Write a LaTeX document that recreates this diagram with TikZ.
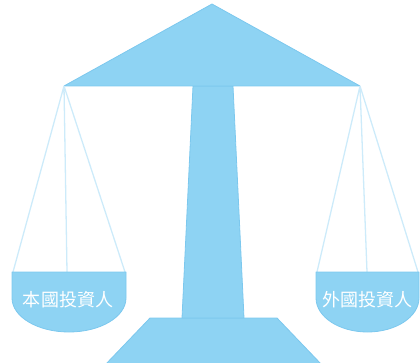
\documentclass[tikz,border=0pt]{standalone}
\usepackage{fontspec}
\newfontfamily\cjk{Noto Sans CJK TC}
\definecolor{scalefill}{HTML}{8ED3F3}
\definecolor{scaleedge}{HTML}{7CC8EE}
\definecolor{stringcol}{HTML}{CDEBFA}
\begin{document}
\begin{tikzpicture}[x=1pt,y=-1pt,
  part/.style={fill=scalefill,draw=scaleedge,line width=0.8pt,line join=round},
  string/.style={draw=stringcol,line width=1.3pt},
  panlabel/.style={text=white,font=\cjk\fontsize{18}{18}\selectfont,inner sep=0pt}]
\useasboundingbox (0,0) rectangle (420,363);
% base and column
\draw[part] (150,318) -- (277,318) -- (322,365) -- (105,365) -- cycle;
\draw[part] (193,86) -- (233,86) -- (244,318) -- (182,318) -- cycle;
% beam
\coordinate (lp) at (64,86);
\coordinate (rp) at (360,86);
\draw[part] (212,4) -- (rp) -- (lp) -- cycle;
% left pan strings
\coordinate (l1) at (13,272);
\coordinate (l2) at (67,272);
\coordinate (l3) at (125,272);
\draw[string] (lp) -- (l1) (lp) -- (l2) (lp) -- (l3);
% right pan strings
\coordinate (r1) at (317,272);
\coordinate (r2) at (367,272);
\coordinate (r3) at (418,272);
\draw[string] (rp) -- (r1) (rp) -- (r2) (rp) -- (r3);
% pans
\draw[part] (12,272) -- (126,272) -- (126,298) arc[start angle=0,end angle=180,x radius=57,y radius=34] -- cycle;
\draw[part] (316,272) -- (419,272) -- (419,298) arc[start angle=0,end angle=180,x radius=51.5,y radius=34] -- cycle;
\node[panlabel] (lt) at (68,300) {本國投資人};
\node[panlabel] (rt) at (367,300) {外國投資人};
\end{tikzpicture}
\end{document}
